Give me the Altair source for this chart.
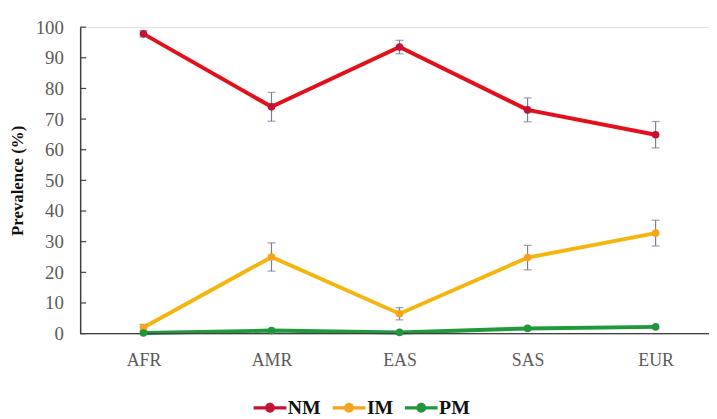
import altair as alt
import pandas as pd

regions = ["AFR", "AMR", "EAS", "SAS", "EUR"]
series = ["NM", "IM", "PM"]
nm_values = [97.8, 74.0, 93.5, 73.0, 64.9]
im_values = [2.0, 25.0, 6.5, 24.8, 32.8]
pm_values = [0.2, 1.0, 0.4, 1.7, 2.2]
nm_err = [1.0, 4.7, 2.2, 3.9, 4.3]
im_err = [1.0, 4.6, 2.0, 4.0, 4.2]
pm_err = [0.3, 0.4, 0.3, 0.5, 0.5]
y_ticks = [0, 10, 20, 30, 40, 50, 60, 70, 80, 90, 100]

line_colors = ["#e3101c", "#f5b50f", "#1e9a3c"]
marker_colors = ["#c41236", "#f6a31d", "#22963c"]

rows = []
for s, vals, errs in zip(series, [nm_values, im_values, pm_values], [nm_err, im_err, pm_err]):
    for r, v, e in zip(regions, vals, errs):
        rows.append({"region": r, "series": s, "value": v, "lo": max(v - e, 0), "hi": v + e})
df = pd.DataFrame(rows)
df_err = df[df["series"] != "PM"]
ticks_df = pd.DataFrame({"t": y_ticks})

W, H = 636, 310
FONT = "Liberation Serif"

x_scale = alt.Scale(type="point", range=[64, 582], padding=0, domain=regions)
y_scale = alt.Scale(domain=[0, 100], nice=False)

x_axis = alt.Axis(title=None, domain=False, ticks=False, labelFont=FONT,
                  labelFontSize=18, labelColor="#5a5a5a", labelPadding=18,
                  labelAngle=0, grid=False)
y_axis = alt.Axis(title="Prevalence (%)", values=y_ticks, ticks=False,
                  labelOverlap=False,
                  domainColor="#404040", domainWidth=1.5, grid=False,
                  labelFont=FONT, labelFontSize=19, labelColor="#5a5a5a",
                  labelPadding=17, titleFont=FONT, titleFontSize=17,
                  titleFontWeight="bold", titleColor="#111111", titlePadding=9)


def xe():
    return alt.X("region:N", sort=regions, scale=x_scale, axis=x_axis)


def ye(field):
    return alt.Y(field, scale=y_scale, axis=y_axis)


legend_path = ("M-1,-0.1L1,-0.1L1,0.1L-1,0.1Z "
               "M0.3,0A0.3,0.3,0,1,1,-0.3,0A0.3,0.3,0,1,1,0.3,0Z")

legend = alt.Legend(title=None, orient="none", direction="horizontal",
                    legendX=175, legendY=368, symbolType=legend_path,
                    symbolSize=1100, symbolStrokeWidth=0, symbolOpacity=1,
                    labelFont=FONT, labelFontSize=20, labelFontWeight="bold",
                    labelColor="#111111", labelOffset=1, columnPadding=11, padding=0)

line_layers = []
for s, c in zip(series, line_colors):
    line_layers.append(
        alt.Chart(df).transform_filter(alt.datum.series == s).mark_line(
            strokeWidth=4, color=c).encode(x=xe(), y=ye("value:Q"))
    )

inner_ticks = alt.Chart(ticks_df).mark_rule(color="#404040", strokeWidth=1.2).encode(
    y=ye("t:Q"), x=alt.value(0), x2=alt.value(6))

x_axis_line = alt.Chart(ticks_df).transform_filter("datum.t == 0").mark_rule(
    color="#404040", strokeWidth=1.5).encode(
    y=ye("t:Q"), x=alt.value(0), x2=alt.value(W))

err_rule = alt.Chart(df_err).mark_rule(color="#7d7d95", strokeWidth=1.2).encode(
    x=xe(), y=ye("lo:Q"), y2="hi:Q")
err_top = alt.Chart(df_err).mark_tick(color="#7d7d95", thickness=1.3, size=8, orient="horizontal").encode(
    x=xe(), y=ye("hi:Q"))
err_bot = alt.Chart(df_err).mark_tick(color="#7d7d95", thickness=1.3, size=8, orient="horizontal").encode(
    x=xe(), y=ye("lo:Q"))

points = alt.Chart(df).mark_point(filled=True, size=60, opacity=1, shape="circle").encode(
    x=xe(), y=ye("value:Q"),
    color=alt.Color("series:N", scale=alt.Scale(domain=series, range=marker_colors), legend=legend),
)

chart = alt.layer(*line_layers, x_axis_line, inner_ticks, err_rule, err_top, err_bot, points).properties(
    width=W, height=H,
    autosize=alt.AutoSizeParams(type="none"),
    padding={"left": 73, "top": 17, "right": 0, "bottom": 84},
).configure_view(stroke=None).configure(background="white")

chart.save("out.html", embed_options={"renderer": "svg", "actions": False})
